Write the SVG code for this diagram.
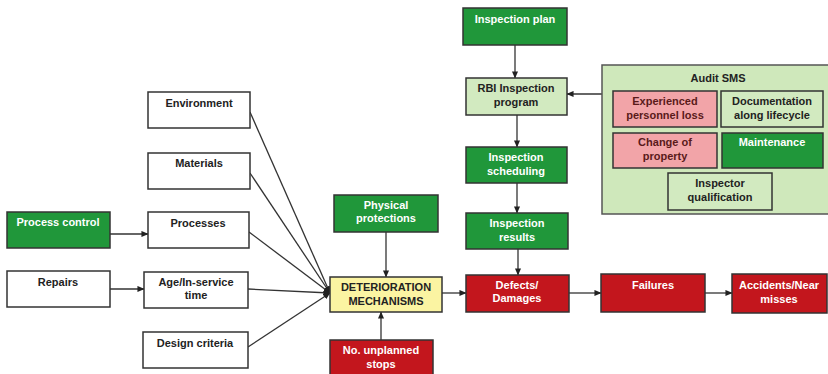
<svg xmlns="http://www.w3.org/2000/svg" width="828" height="374" viewBox="0 0 828 374">
  <defs>
    <marker id="arrow" viewBox="0 0 8 8" refX="7.5" refY="4" markerWidth="7" markerHeight="7" markerUnits="userSpaceOnUse" orient="auto">
      <path d="M0,0.5 L8,4 L0,7.5 Z" fill="#222"/>
    </marker>
    <style>
      text { font-family: "Liberation Sans", Arial, sans-serif; font-size: 11px; font-weight: bold; text-anchor: middle; }
      rect { stroke: #333; stroke-width: 1.5; }
      .white { fill: #ffffff; stroke: #333; }
      .green { fill: #20973a; }
      .lgreen { fill: #d2eac0; }
      .panel { fill: #cfe8bb; stroke: #555; }
      .pink { fill: #f2a4a8; }
      .red { fill: #c3161d; }
      .yellow { fill: #fbf4a2; }
      .tw { fill: #ffffff; }
      .td { fill: #222222; }
      .tm { fill: #5a1a1a; }
      .conn line, .conn polyline { stroke: #333; stroke-width: 1.3; fill: none; }
    </style>
  </defs>
  <rect width="828" height="374" fill="#ffffff" style="stroke:none"/>

  <!-- connectors -->
  <g class="conn">
    <line x1="250" y1="112" x2="330" y2="293" marker-end="url(#arrow)"/>
    <line x1="250" y1="173" x2="330" y2="293" marker-end="url(#arrow)"/>
    <line x1="249" y1="232" x2="330" y2="293" marker-end="url(#arrow)"/>
    <line x1="248" y1="289" x2="330" y2="293" marker-end="url(#arrow)"/>
    <line x1="248" y1="347" x2="330" y2="293" marker-end="url(#arrow)"/>
    <line x1="110" y1="234" x2="148" y2="234" marker-end="url(#arrow)"/>
    <line x1="110" y1="289" x2="144" y2="289" marker-end="url(#arrow)"/>
    <line x1="386" y1="232" x2="386" y2="277" marker-end="url(#arrow)"/>
    <line x1="381" y1="340" x2="381" y2="312" marker-end="url(#arrow)"/>
    <line x1="442" y1="293" x2="466" y2="293" marker-end="url(#arrow)"/>
    <line x1="569" y1="293" x2="601" y2="293" marker-end="url(#arrow)"/>
    <line x1="705" y1="293" x2="732" y2="293" marker-end="url(#arrow)"/>
    <line x1="515" y1="45" x2="515" y2="78" marker-end="url(#arrow)"/>
    <line x1="517" y1="115" x2="517" y2="147" marker-end="url(#arrow)"/>
    <line x1="517" y1="183" x2="517" y2="213" marker-end="url(#arrow)"/>
    <line x1="518" y1="249" x2="518" y2="275" marker-end="url(#arrow)"/>
    <line x1="602" y1="94" x2="567" y2="94" marker-end="url(#arrow)"/>
  </g>

  <!-- left-hand factor boxes -->
  <g id="environment">
    <rect class="white" x="148" y="92" width="102" height="36"/>
    <text class="td" x="199" y="107">Environment</text>
  </g>
  <g id="materials">
    <rect class="white" x="148" y="153" width="102" height="36"/>
    <text class="td" x="199" y="167">Materials</text>
  </g>
  <g id="process-control">
    <rect class="green" x="7" y="212" width="103" height="36"/>
    <text class="tw" x="58" y="226">Process control</text>
  </g>
  <g id="processes">
    <rect class="white" x="148" y="212" width="101" height="36"/>
    <text class="td" x="198" y="227">Processes</text>
  </g>
  <g id="repairs">
    <rect class="white" x="7" y="271" width="103" height="36"/>
    <text class="td" x="58" y="286">Repairs</text>
  </g>
  <g id="age">
    <rect class="white" x="144" y="272" width="104" height="36"/>
    <text class="td" x="196" y="286">Age/In-service</text>
    <text class="td" x="196" y="299">time</text>
  </g>
  <g id="design-criteria">
    <rect class="white" x="143" y="332" width="105" height="36"/>
    <text class="td" x="195" y="347">Design criteria</text>
  </g>

  <!-- central chain -->
  <g id="physical-protections">
    <rect class="green" x="334" y="195" width="104" height="37"/>
    <text class="tw" x="386" y="209">Physical</text>
    <text class="tw" x="386" y="222">protections</text>
  </g>
  <g id="deterioration">
    <rect class="yellow" x="330" y="277" width="112" height="35"/>
    <text class="td" x="386" y="291">DETERIORATION</text>
    <text class="td" x="386" y="305">MECHANISMS</text>
  </g>
  <g id="unplanned-stops">
    <rect class="red" x="330" y="340" width="103" height="40"/>
    <text class="tw" x="381" y="354">No. unplanned</text>
    <text class="tw" x="381" y="368">stops</text>
  </g>
  <g id="defects">
    <rect class="red" x="466" y="275" width="103" height="37"/>
    <text class="tw" x="517" y="289">Defects/</text>
    <text class="tw" x="517" y="302">Damages</text>
  </g>
  <g id="failures">
    <rect class="red" x="601" y="274" width="104" height="38"/>
    <text class="tw" x="653" y="289">Failures</text>
  </g>
  <g id="accidents">
    <rect class="red" x="732" y="274" width="95" height="39"/>
    <text class="tw" x="779" y="289">Accidents/Near</text>
    <text class="tw" x="779" y="303">misses</text>
  </g>

  <!-- inspection chain -->
  <g id="inspection-plan">
    <rect class="green" x="463" y="8" width="104" height="37"/>
    <text class="tw" x="515" y="23">Inspection plan</text>
  </g>
  <g id="rbi-program">
    <rect class="lgreen" x="466" y="78" width="101" height="37"/>
    <text class="td" x="516" y="92">RBI Inspection</text>
    <text class="td" x="516" y="106">program</text>
  </g>
  <g id="inspection-scheduling">
    <rect class="green" x="466" y="147" width="101" height="36"/>
    <text class="tw" x="516" y="161">Inspection</text>
    <text class="tw" x="516" y="175">scheduling</text>
  </g>
  <g id="inspection-results">
    <rect class="green" x="466" y="213" width="102" height="36"/>
    <text class="tw" x="517" y="227">Inspection</text>
    <text class="tw" x="517" y="241">results</text>
  </g>

  <!-- audit SMS panel -->
  <g id="audit-sms">
    <rect class="panel" x="602" y="65" width="228" height="149"/>
    <text class="td" x="718" y="82">Audit SMS</text>
  </g>
  <g id="personnel-loss">
    <rect class="pink" x="613" y="91" width="104" height="36"/>
    <text class="tm" x="665" y="105">Experienced</text>
    <text class="tm" x="665" y="119">personnel loss</text>
  </g>
  <g id="documentation">
    <rect class="lgreen" x="721" y="91" width="102" height="36"/>
    <text class="td" x="772" y="105">Documentation</text>
    <text class="td" x="772" y="119">along lifecycle</text>
  </g>
  <g id="change-of-property">
    <rect class="pink" x="613" y="133" width="104" height="35"/>
    <text class="tm" x="665" y="146">Change of</text>
    <text class="tm" x="665" y="160">property</text>
  </g>
  <g id="maintenance">
    <rect class="green" x="722" y="133" width="101" height="35"/>
    <text class="tw" x="772" y="146">Maintenance</text>
  </g>
  <g id="inspector-qualification">
    <rect class="lgreen" x="668" y="173" width="104" height="37"/>
    <text class="td" x="720" y="187">Inspector</text>
    <text class="td" x="720" y="201">qualification</text>
  </g>
</svg>
